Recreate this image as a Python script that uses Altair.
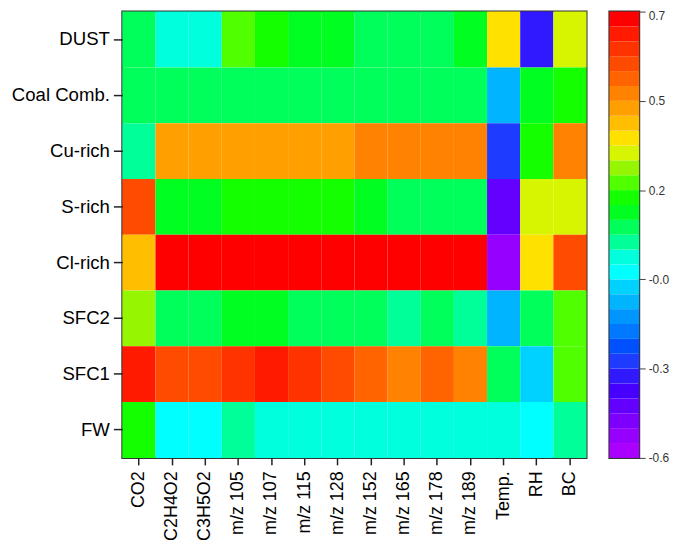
import altair as alt
import pandas as pd

rows = ["DUST", "Coal Comb.", "Cu-rich", "S-rich", "Cl-rich", "SFC2", "SFC1", "FW"]
cols = ["CO2", "C2H4O2", "C3H5O2", "m/z 105", "m/z 107", "m/z 115", "m/z 128",
        "m/z 152", "m/z 165", "m/z 178", "m/z 189", "Temp.", "RH", "BC"]

dust = [0.07, -0.02, -0.02, 0.20, 0.16, 0.12, 0.12, 0.07, 0.07, 0.07, 0.12, 0.33, -0.36, 0.29]
coal = [0.07, 0.07, 0.07, 0.07, 0.07, 0.07, 0.07, 0.07, 0.07, 0.07, 0.07, -0.15, 0.12, 0.16]
cu_rich = [0.03, 0.42, 0.42, 0.42, 0.42, 0.42, 0.42, 0.46, 0.46, 0.46, 0.46, -0.32, 0.16, 0.46]
s_rich = [0.55, 0.12, 0.12, 0.16, 0.16, 0.16, 0.16, 0.12, 0.07, 0.07, 0.07, -0.45, 0.29, 0.29]
cl_rich = [0.37, 0.68, 0.68, 0.68, 0.68, 0.68, 0.68, 0.68, 0.68, 0.68, 0.68, -0.54, 0.33, 0.55]
sfc2 = [0.25, 0.07, 0.07, 0.12, 0.12, 0.07, 0.07, 0.07, 0.03, 0.07, 0.03, -0.15, 0.07, 0.20]
sfc1 = [0.63, 0.55, 0.55, 0.59, 0.63, 0.59, 0.55, 0.50, 0.46, 0.50, 0.46, 0.07, -0.10, 0.20]
fw = [0.16, -0.06, -0.06, 0.03, -0.02, -0.02, -0.02, -0.02, -0.02, -0.02, -0.02, -0.02, -0.06, 0.03]

series = [dust, coal, cu_rich, s_rich, cl_rich, sfc2, sfc1, fw]

# colour steps, from the lowest value (purple) to the highest (red)
palette = ["#AA00FF", "#9600FF", "#7D00FF", "#6400FF", "#4600FF", "#3019FF",
           "#1E3CFF", "#0050FF", "#0078FF", "#0096FF", "#00B4FF", "#00D2FF",
           "#00FFFF", "#00FFDD", "#00FF99", "#00FF5A", "#00FF20", "#14FF00",
           "#50FF00", "#96F500", "#D7F500", "#FFE100", "#FFBE00", "#FFA000",
           "#FF8200", "#FF6400", "#FF4B00", "#FF3300", "#FF1A00", "#FF0000"]
vmin, vmax = -0.6, 0.7

cbar_ticks = [0.7, 0.44, 0.18, -0.08, -0.34, -0.6]
cbar_labels = ["0.7", "0.5", "0.2", "-0.0", "-0.3", "-0.6"]

FONT = "Liberation Sans"

records = []
for r, vals in zip(rows, series):
    for c, v in zip(cols, vals):
        records.append({"row": r, "col": c, "value": v})
df = pd.DataFrame(records)

n = len(palette)
stepv = (vmax - vmin) / n
cb = pd.DataFrame({
    "lo": [vmin + k * stepv for k in range(n)],
    "hi": [vmin + (k + 1) * stepv for k in range(n)],
    "mid": [vmin + (k + 0.5) * stepv for k in range(n)],
})

color_scale = alt.Scale(type="quantize", domain=[vmin, vmax], range=palette)

heat = alt.Chart(df).mark_rect().encode(
    x=alt.X("col:N", sort=cols,
            scale=alt.Scale(paddingInner=0, paddingOuter=0),
            axis=alt.Axis(title=None, labelAngle=270, labelFontSize=18, labelFont=FONT,
                          labelColor="#000", tickSize=7, tickWidth=1.5, tickColor="#222",
                          labelPadding=6, domain=False)),
    y=alt.Y("row:N", sort=rows,
            scale=alt.Scale(paddingInner=0, paddingOuter=0),
            axis=alt.Axis(title=None, labelFontSize=18.7, labelFont=FONT, labelColor="#000",
                          tickSize=9, tickWidth=1.5, tickColor="#222", labelPadding=4,
                          domain=False)),
    color=alt.Color("value:Q", scale=color_scale, legend=None),
).properties(width=467, height=449)

expr = "''"
for v, lab in reversed(list(zip(cbar_ticks, cbar_labels))):
    expr = f"abs(datum.value - ({v})) < 0.01 ? '{lab}' : " + expr

cbar = alt.Chart(cb).mark_rect().encode(
    x=alt.value(0),
    x2=alt.value(30),
    y=alt.Y("lo:Q", scale=alt.Scale(domain=[vmin, vmax], nice=False, zero=False),
            axis=alt.Axis(orient="right", title=None, values=cbar_ticks, labelExpr=expr,
                          labelFontSize=12, labelFont=FONT, labelColor="#333",
                          labelOffset={"condition": {"test": "datum.value > 0.65", "value": 4},
                                       "value": 0},
                          tickSize=6, tickColor="#444", labelPadding=3, grid=False,
                          domain=False, labelFlush=False, labelOverlap=False)),
    y2="hi:Q",
    color=alt.Color("mid:Q", scale=color_scale, legend=None),
).properties(width=30, height=449)

chart = alt.hconcat(heat, cbar, spacing=21).resolve_scale(
    color="independent", y="independent", x="independent"
).properties(
    padding={"left": 2, "top": -1, "right": 5, "bottom": 0}
).configure_view(
    stroke="#333", strokeWidth=2
)

chart.save("out.html", embed_options={"renderer": "svg", "actions": False})
